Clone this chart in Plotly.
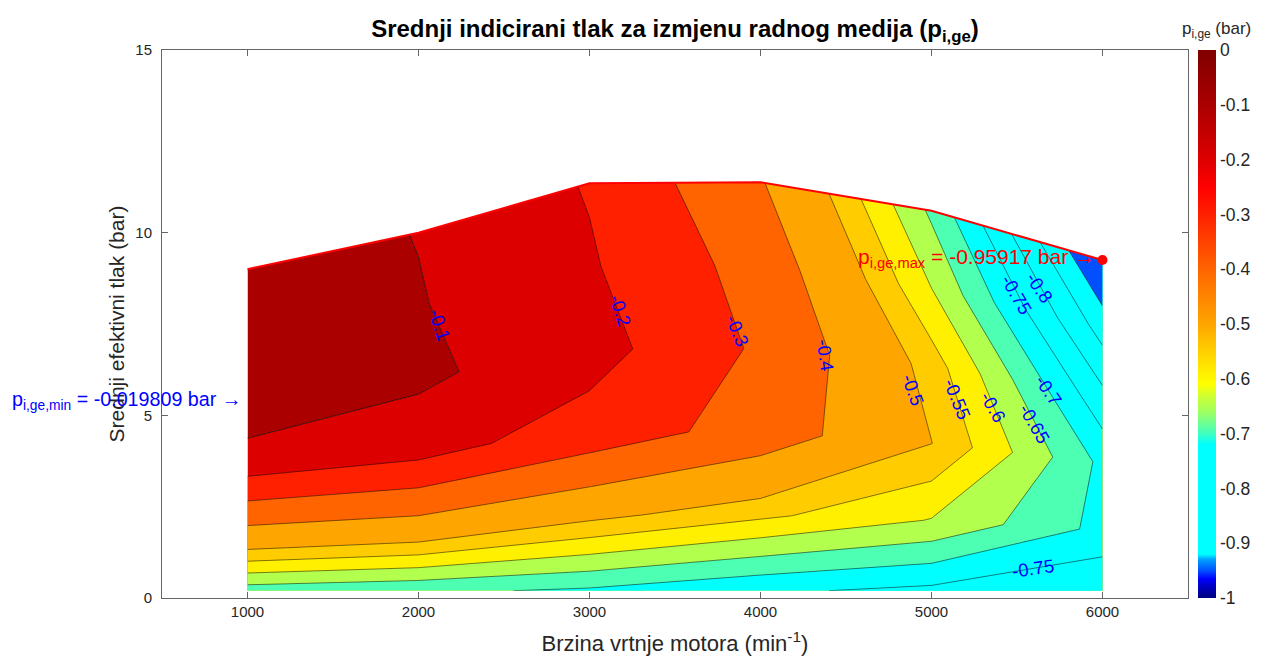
import plotly.graph_objects as go

# engine speed (min^-1) and the load points measured at each speed
SPEED = [1000, 2000, 3000, 4000, 5000, 6000]
PME = [
    [0.20, 0.20, 0.20, 0.20, 0.20, 0.20],
    [1.80, 2.00, 2.27, 2.28, 2.12, 1.85],
    [3.60, 4.00, 4.54, 4.55, 4.24, 3.70],
    [5.40, 6.00, 6.81, 6.83, 6.36, 5.55],
    [7.20, 8.00, 9.08, 9.10, 8.48, 7.40],
    [9.00, 10.00, 11.35, 11.38, 10.60, 9.25],
]
# mean indicated pressure of the gas exchange, p_i,ge (bar)
PIGE = [
    [-0.675, -0.690, -0.708, -0.742, -0.762, -0.795],
    [-0.427, -0.433, -0.483, -0.538, -0.603, -0.715],
    [-0.160, -0.171, -0.239, -0.344, -0.499, -0.712],
    [-0.019809, -0.081, -0.161, -0.315, -0.525, -0.788],
    [-0.030, -0.094, -0.190, -0.340, -0.600, -0.872],
    [-0.045, -0.103, -0.207, -0.393, -0.660, -0.95917],
]

# contour levels, top down, and the colour of the band just below each one
LEVELS = [-0.1, -0.2, -0.3, -0.4, -0.5, -0.55, -0.6, -0.65, -0.7, -0.75, -0.8, -0.85, -0.9]
BELOW_COLORS = ["#DD0000", "#FF2000", "#FF6400", "#FFA500", "#FFCC00", "#FFF000", "#B3FF4D",
                "#4DFFB3", "#00FFFF", "#00FFFF", "#00FFFF", "#00FFFF", "#0050FF"]
TOP_COLOR = "#AA0000"

# labelled lines: (text, speed, pme, angle)
CLABELS = [
    ("-0.1", 2127, 7.47, 72), ("-0.2", 3179, 7.86, 72), ("-0.3", 3862, 7.31, 68),
    ("-0.4", 4382, 6.65, 82), ("-0.5", 4890, 5.70, 70), ("-0.55", 5147, 5.45, 68),
    ("-0.6", 5357, 5.23, 60), ("-0.65", 5603, 4.79, 60), ("-0.7", 5684, 5.67, 56),
    ("-0.75", 5498, 8.32, 60), ("-0.8", 5632, 8.51, 56), ("-0.75", 5591, 0.80, -8),
]

CBAR_SCALE = [
    [0.00, "#000080"], [0.02, "#0000C0"], [0.035, "#0000FF"], [0.05, "#0050FF"],
    [0.07, "#00A0FF"], [0.08, "#00FFFF"], [0.28, "#00FFFF"], [0.30, "#40FFC0"],
    [0.32, "#70FF90"], [0.34, "#A0FF60"], [0.37, "#D0FF30"], [0.39, "#FFFF00"],
    [0.45, "#FFD000"], [0.50, "#FFA500"], [0.60, "#FF6400"], [0.70, "#FF2000"],
    [0.75, "#FF0000"], [0.80, "#DD0000"], [0.90, "#AA0000"], [1.00, "#800000"],
]

FONT = "Liberation Sans, Arial, sans-serif"
AXC = "#262626"

rows = list(range(len(PME)))
hidden = dict(showgrid=False, showline=False, showticklabels="none", startline=False,
              endline=False, smoothing=0, minorgridcount=0)
cline = dict(color="black", width=0.5, smoothing=0)

fig = go.Figure()
fig.add_trace(go.Carpet(a=SPEED, b=rows, x=[SPEED] * len(PME), y=PME, carpet="map",
                        aaxis=hidden, baxis=hidden))

# contourcarpet constraint fills land on the opposite side of the operator here,
# so ">=" paints the part below the level; stack from the top level down
fig.add_trace(go.Contourcarpet(
    a=SPEED, b=rows, z=PIGE, carpet="map", showscale=False,
    contours=dict(type="constraint", operation="<=", value=LEVELS[0]),
    fillcolor=TOP_COLOR, line=cline))
for lev, col in zip(LEVELS, BELOW_COLORS):
    fig.add_trace(go.Contourcarpet(
        a=SPEED, b=rows, z=PIGE, carpet="map", showscale=False,
        contours=dict(type="constraint", operation=">=", value=lev),
        fillcolor=col, line=cline))

# full-load envelope
fig.add_trace(go.Scatter(x=SPEED, y=PME[-1], mode="lines", line=dict(color="red", width=2),
                         showlegend=False, hoverinfo="skip"))

# extremes
flat = [(v, i, j) for i, r in enumerate(PIGE) for j, v in enumerate(r)]
vmax, imax, jmax = max(flat)
vmin, imin, jmin = min(flat)
fig.add_trace(go.Scatter(x=[SPEED[jmin]], y=[PME[imin][jmin]], mode="markers",
                         marker=dict(color="red", size=10), showlegend=False, hoverinfo="skip"))

# colorbar
fig.add_trace(go.Scatter(
    x=[None], y=[None], mode="markers", showlegend=False, hoverinfo="skip",
    marker=dict(color=[0], cmin=-1, cmax=0, colorscale=CBAR_SCALE, showscale=True,
                colorbar=dict(x=1.0097, xanchor="left", xpad=0, ypad=0, thickness=18,
                              len=1, y=0.5, yanchor="middle", outlinewidth=0, ticks="",
                              tickvals=[-1 + k / 10 for k in range(11)],
                              ticktext=[f"{-1 + k / 10:g}" for k in range(11)],
                              tickfont=dict(size=17.5, color=AXC, family=FONT))),
))

for txt, x, y, ang in CLABELS:
    fig.add_annotation(x=x, y=y, text=txt, showarrow=False, textangle=ang,
                       font=dict(size=18.5, color="blue", family=FONT))

fig.add_annotation(x=SPEED[jmax], y=PME[imax][jmax], xanchor="right", yanchor="middle",
                   xshift=-5, showarrow=False,
                   text=f"p<sub>i,ge,min</sub> = {vmax:.5g} bar \u2192",
                   font=dict(size=19.7, color="blue", family=FONT))
fig.add_annotation(x=SPEED[jmin], y=PME[imin][jmin], xanchor="right", yanchor="middle",
                   xshift=-6, yshift=2, showarrow=False,
                   text=f"p<sub>i,ge,max</sub> = {vmin:.5g} bar \u2192",
                   font=dict(size=21, color="red", family=FONT))
fig.add_annotation(xref="paper", yref="paper", x=1.0273, y=1.0365, xanchor="center",
                   yanchor="middle", showarrow=False,
                   text="p<sub>i,ge</sub> (bar)", font=dict(size=17, color=AXC, family=FONT))

axis = dict(showline=True, linecolor="#666", linewidth=1, mirror="ticks", ticks="inside",
            ticklen=6, tickcolor="#666", showgrid=False, zeroline=False, automargin=False,
            tickfont=dict(size=15, color=AXC, family=FONT))
fig.update_xaxes(range=[500, 6500], tickvals=SPEED,
                 title=dict(text="Brzina vrtnje motora (min<sup>-1</sup>)", standoff=16,
                            font=dict(size=22, color=AXC, family=FONT)), **axis)
fig.update_yaxes(range=[0, 15], tickvals=[0, 5, 10, 15], ticklabelstandoff=6,
                 title=dict(text="Srednji efektivni tlak (bar)", standoff=4,
                            font=dict(size=21, color=AXC, family=FONT)), **axis)

# page body adds an 8 px offset, so the figure is 8 px smaller than the window
fig.update_layout(
    width=1264, height=653, margin=dict(l=154, r=84, t=42, b=63),
    paper_bgcolor="white", plot_bgcolor="white", showlegend=False,
    font=dict(family=FONT, color=AXC),
    title=dict(text="<b>Srednji indicirani tlak za izmjenu radnog medija (p<sub>i,ge</sub>)</b>",
               x=0.5, xref="paper", y=0.969, yanchor="middle",
               font=dict(size=24, color="black", family=FONT)),
)

fig.write_html("out.html")
